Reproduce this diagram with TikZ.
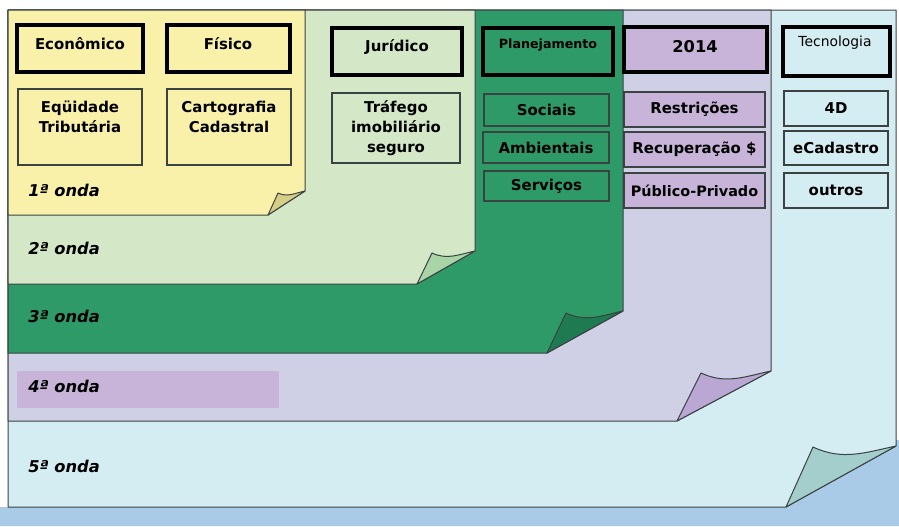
\documentclass[tikz,border=0pt]{standalone}
\usepackage{fontspec}
\setmainfont{DejaVu Sans}
\usetikzlibrary{positioning}
\definecolor{amarelo}{HTML}{F9F1AA}
\definecolor{amareloD}{HTML}{D5CE84}
\definecolor{verdeC}{HTML}{D4E8C8}
\definecolor{verdeCD}{HTML}{A9D4A5}
\definecolor{verde}{HTML}{2E9A68}
\definecolor{verdeD}{HTML}{1E7A50}
\definecolor{lilas}{HTML}{CFCFE6}
\definecolor{lilasD}{HTML}{BBA7D3}
\definecolor{roxo}{HTML}{C7B4D8}
\definecolor{ciano}{HTML}{D4EDF3}
\definecolor{cianoD}{HTML}{A4CECB}
\definecolor{fundo}{HTML}{A9CBE8}
\definecolor{borda}{HTML}{3A4242}
\newcommand{\folha}[8]{%
  \draw[sheet, fill=#1] (8,10) -- (#3,10) -- (#3,#6) -- (#5,#4) -- (8,#4) -- cycle;
  \draw[sheet, fill=#2] (#5,#4) -- (#7,#8) to[out=-25,in=192] (#3,#6) -- cycle;
}
\tikzset{
  sheet/.style={draw=borda, line width=0.75pt, line join=round},
  headbox/.style={draw=black, line width=2.6pt, inner sep=0pt},
  itembox/.style={draw=borda, line width=0.8pt, inner sep=0pt,
    font=\bfseries\fontsize{11.2}{15}\selectfont},
  boxsize/.style 2 args={minimum width=#1*0.75pt, minimum height=#2*0.75pt},
  txt/.style={inner sep=0pt, align=center, font=\bfseries\fontsize{11.2}{15}\selectfont},
  wave/.style={inner sep=0pt, anchor=west, font=\bfseries\itshape\fontsize{12.2}{14}\selectfont}
}
\begin{document}
\begin{tikzpicture}[x=0.75pt, y=-0.75pt]
  \useasboundingbox (0,0) rectangle (899,526);
  \fill[fundo] (0,526) -- (0,507) -- (780,507) -- (780,440) -- (899,440) -- (899,526) -- cycle;
  % ondas, de tras para frente
  \folha{ciano}{cianoD}{896}{507}{786}{446}{813}{447}
  \folha{lilas}{lilasD}{771}{421}{677}{371}{701}{373}
  \folha{verde}{verdeD}{623}{353}{547}{311}{566}{313}
  \folha{verdeC}{verdeCD}{475}{284}{417}{251}{432}{253}
  \folha{amarelo}{amareloD}{305}{215}{268}{191}{278}{193}
  % 1a onda
  \node[headbox, boxsize={126}{47}, fill=amarelo] (econ) at (80,48.5) {};
  \node[txt] (econ-t) at (80,44) {Econômico};
  \node[headbox, boxsize={123}{47}, fill=amarelo] (fisico) at (228.5,48.5) {};
  \node[txt] (fisico-t) at (228,44) {Físico};
  \node[itembox, boxsize={124}{76}, fill=amarelo] (equid) at (80,127) {};
  \node[txt] (equid-t) at (80,117) {Eqüidade\\Tributária};
  \node[itembox, boxsize={124}{76}, fill=amarelo] (carto) at (229,127) {};
  \node[txt] (carto-t) at (229,117) {Cartografia\\Cadastral};
  \node[wave] (onda1) at (28,190) {1ª onda};
  % 2a onda
  \node[headbox, boxsize={130}{47}, fill=verdeC] (jurid) at (397,51.5) {};
  \node[txt] (jurid-t) at (397,47) {Jurídico};
  \node[itembox, boxsize={128}{70}, fill=verdeC] (trafego) at (396,128) {};
  \node[txt] (trafego-t) at (396,128) {Tráfego\\imobiliário\\seguro};
  \node[wave] (onda2) at (28,248) {2ª onda};
  % 3a onda
  \node[headbox, boxsize={130}{47}, fill=verde] (planej) at (548,51.5) {};
  \node[txt, font=\bfseries\fontsize{9.5}{12}\selectfont] (planej-t) at (548,45) {Planejamento};
  \node[itembox, boxsize={125}{32}, fill=verde] (sociais) at (546.5,110) {Sociais};
  \node[itembox, boxsize={126}{31}, fill=verde] (ambient) at (546,147.5) {Ambientais};
  \node[itembox, boxsize={125}{30}, fill=verde] (servicos) at (546.5,186) {Serviços};
  \node[wave] (onda3) at (28,316) {3ª onda};
  % 4a onda
  \node[headbox, boxsize={143}{45}, fill=roxo] (ano) at (695.5,49.5) {};
  \node[txt, font=\bfseries\fontsize{12.2}{14}\selectfont] (ano-t) at (695,47) {2014};
  \node[itembox, boxsize={141}{35}, fill=roxo] (restr) at (694.5,109.5) {Restrições};
  \node[itembox, boxsize={141}{35}, fill=roxo] (recup) at (694.5,149.5) {Recuperação \$};
  \node[itembox, boxsize={141}{35}, fill=roxo,
    font=\bfseries\fontsize{10.8}{15}\selectfont] (pubpriv) at (694.5,190.5) {Público-Privado};
  \fill[roxo] (17,371) rectangle (279,408);
  \node[wave] (onda4) at (28,386) {4ª onda};
  % 5a onda
  \node[headbox, boxsize={107}{49}, fill=ciano] (tecno) at (836.5,51.5) {};
  \node[txt, font=\fontsize{10.4}{12}\selectfont] (tecno-t) at (835,43) {Tecnologia};
  \node[itembox, boxsize={104}{35}, fill=ciano] (quatrod) at (836,108.5) {4D};
  \node[itembox, boxsize={104}{34}, fill=ciano] (ecad) at (836,148) {eCadastro};
  \node[itembox, boxsize={104}{35}, fill=ciano] (outros) at (836,190.5) {outros};
  \node[wave] (onda5) at (28,466) {5ª onda};
\end{tikzpicture}
\end{document}
